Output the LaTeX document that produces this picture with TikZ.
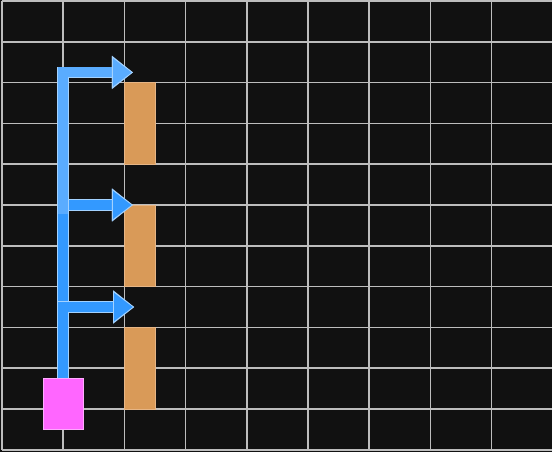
\documentclass[tikz,border=0pt]{standalone}
\usepackage{tikz}
\usetikzlibrary{arrows.meta,calc}

\definecolor{bgblack}{HTML}{111111}
\definecolor{gridgray}{HTML}{BDBDBD}
\definecolor{srcpink}{HTML}{FF66FF}
\definecolor{srcedge}{HTML}{FFAAFF}
\definecolor{barorange}{HTML}{D99A58}
\definecolor{baredge}{HTML}{E6B585}
\definecolor{flowdark}{HTML}{3399FF}
\definecolor{flowlight}{HTML}{5AACFF}
\definecolor{flowedge}{HTML}{A3D2FF}

\tikzset{
  cell/.style={draw=gridgray,line width=1.1pt},
  srcbox/.style={draw=srcedge,fill=srcpink,line width=0.6pt,inner sep=0pt,
    minimum width=30.3pt,minimum height=38.25pt},
  barbox/.style={draw=baredge,fill=barorange,line width=0.6pt,inner sep=0pt,
    minimum width=22.95pt,minimum height=61.2pt},
  flow/.style={line width=7.5pt,line join=miter,draw=#1,
    preaction={draw=flowedge,line width=8.7pt,line join=miter,
      -{Triangle[length=15.75pt,width=24pt]}},
    -{Triangle[length=15.75pt,width=24pt,line width=0.6pt,color=flowedge,fill=#1]}}
}

\begin{document}
\begin{tikzpicture}[x=45.9pt,y=-30.6pt]
  \fill[bgblack] (-0.0327,-0.0245) rectangle (8.987,11.054);
  \useasboundingbox (-0.0327,-0.0245) rectangle (8.987,11.054);
  \foreach \c in {0,...,9} \draw[cell] (\c,0) -- (\c,11);
  \foreach \r in {0,...,11} \draw[cell] (0,\r) -- (9,\r);
  \node[barbox] (bar1) at (2.25,3) {};
  \node[barbox] (bar2) at (2.25,6) {};
  \node[barbox] (bar3) at (2.25,9) {};
  \node[srcbox] (src) at (1,9.875) {};
  \coordinate (j1) at (1,5.22);
  \coordinate (t1) at (2.14,1.75);
  \coordinate (t2) at (2.14,5);
  \coordinate (t3) at (2.16,7.5);
  \draw[flow=flowdark] (src.north) |- (t2);
  \draw[flow=flowdark] (src.north) |- (t3);
  \draw[flow=flowlight] (j1) |- (t1);
\end{tikzpicture}
\end{document}
